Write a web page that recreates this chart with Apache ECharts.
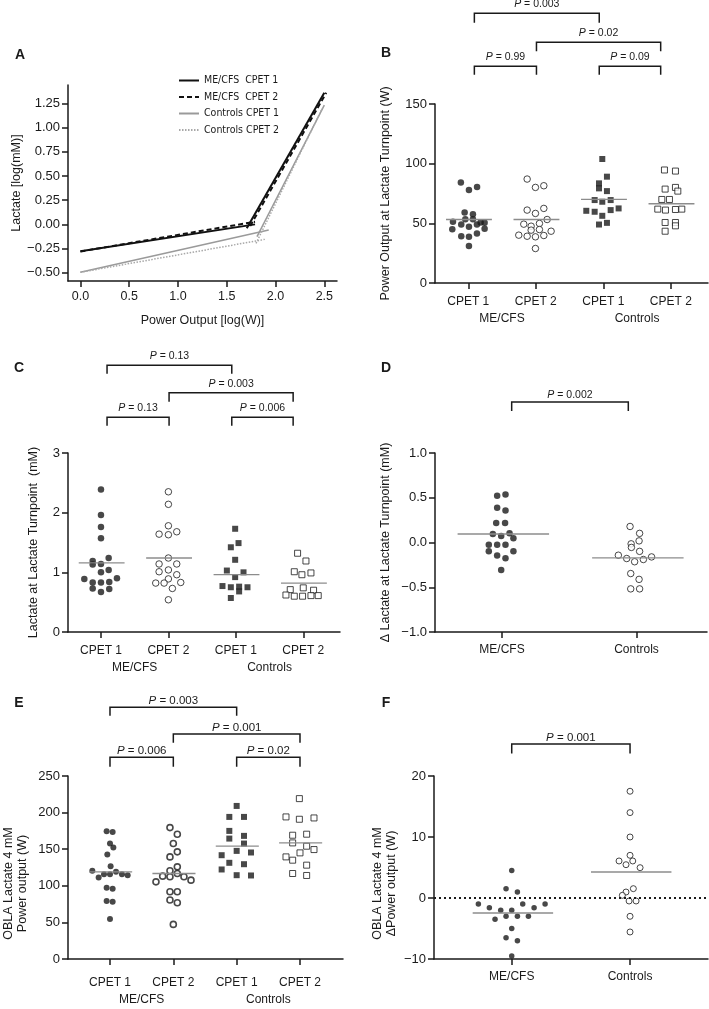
<!DOCTYPE html>
<html>
<head>
<meta charset="utf-8">
<script src="https://cdn.jsdelivr.net/npm/echarts@6/dist/echarts.min.js"></script>
<style>
  html, body { margin: 0; padding: 0; background: #fff; }
  #chart { width: 709px; height: 1009px; }
</style>
</head>
<body>
<div id="chart"></div>
<script>
// ---- panel A: broken-stick fits, [log(W), log(mM)] ----
const aNames = ['ME/CFS  CPET 1', 'ME/CFS  CPET 2', 'Controls CPET 1', 'Controls CPET 2']
const aMe1Low = [[0, -0.277], [1.79, 0.0]]
const aMe1High = [[1.705, -0.04], [2.5, 1.36]]
const aMe2Low = [[0, -0.28], [1.79, 0.027]]
const aMe2High = [[1.74, -0.017], [2.52, 1.36]]
const aCo1Low = [[0, -0.495], [1.93, -0.058]]
const aCo1High = [[1.81, -0.127], [2.5, 1.233]]
const aCo2Low = [[0, -0.495], [1.89, -0.155]]
const aCo2High = [[1.8, -0.196], [2.48, 1.2]]
const aYTicks = [-0.5, -0.25, 0, 0.25, 0.5, 0.75, 1, 1.25]
const aXTicks = [0, 0.5, 1, 1.5, 2, 2.5]

// categories
const cpet = ['CPET 1', 'CPET 2', 'CPET 1', 'CPET 2']
const cohorts = ['ME/CFS', 'Controls']

// ---- panel B: power output at lactate turnpoint (W), [jitter, value] ----
const bMe1 = [[-0.11, 84.3], [0.13, 80.4], [0.01, 77.9], [-0.054, 59.1], [0.069, 57.7], [-0.227, 51.3], [-0.044, 53.5], [0.069, 53.5], [0.183, 50.7], [-0.104, 49], [0.01, 47.1], [0.128, 49], [0.242, 50.4], [-0.237, 45.1], [0.242, 45.4], [-0.104, 39.2], [0.01, 38.7], [0.128, 41.5], [0.01, 31.1]]
const bMe2 = [[-0.128, 87.1], [0.119, 81.5], [-0.005, 80.1], [0.119, 62.5], [-0.128, 61.1], [-0.005, 58.3], [0.168, 53.2], [-0.178, 49.3], [0.054, 49.9], [-0.069, 47.6], [-0.069, 44.3], [0.054, 44.8], [0.227, 43.4], [-0.252, 40.1], [-0.128, 39.2], [-0.005, 38.7], [0.119, 39.8], [-0.005, 28.9]]
const bCo1 = [[-0.015, 103.9], [0.054, 89.1], [-0.064, 83.5], [-0.064, 79.3], [0.054, 77], [-0.128, 69.5], [-0.015, 68.1], [0.109, 69.5], [-0.252, 60.5], [-0.128, 59.7], [0.109, 61.1], [0.227, 62.5], [-0.015, 56.3], [-0.064, 49], [0.054, 50.4]]
const bCo2 = [[-0.094, 94.7], [0.069, 93.8], [-0.084, 78.7], [0.069, 80.1], [0.104, 77], [-0.133, 70], [-0.02, 70], [-0.193, 61.9], [-0.079, 61.1], [0.069, 61.6], [0.163, 61.9], [-0.084, 50.7], [0.069, 50.7], [0.069, 47.9], [-0.084, 43.4]]
const bMeans = [53.2, 53.2, 70.0, 66.4]
const bBrackets = [[0.09, 1.94, 226, 218.1], [1.01, 2.85, 201.8, 194.2], [0.09, 1.01, 181.6, 174.6], [1.94, 2.85, 181.6, 174.6]]
const bP = ['0.003', '0.02', '0.99', '0.09']

// ---- panel C: lactate at lactate turnpoint (mM) ----
const cMe1 = [[0, 2.39], [0, 1.96], [0, 1.76], [0, 1.57], [-0.123, 1.19], [0.114, 1.24], [-0.123, 1.13], [0, 1.14], [0, 1.0], [0.114, 1.04], [-0.247, 0.89], [-0.123, 0.83], [0, 0.83], [0.123, 0.84], [0.237, 0.9], [-0.123, 0.73], [0, 0.67], [0.123, 0.72]]
const cMe2 = [[0, 2.35], [0, 2.14], [0, 1.78], [-0.138, 1.64], [0, 1.63], [0.124, 1.68], [0, 1.24], [-0.138, 1.14], [0.124, 1.14], [-0.138, 1.01], [0, 1.04], [0.124, 0.96], [0, 0.89], [-0.188, 0.82], [-0.064, 0.82], [0.183, 0.83], [0.059, 0.73], [0, 0.54]]
const cCo1 = [[-0.01, 1.73], [-0.074, 1.42], [0.04, 1.49], [-0.01, 1.21], [-0.133, 1.03], [0.114, 1.0], [-0.01, 0.92], [-0.198, 0.77], [-0.074, 0.75], [0.049, 0.76], [0.049, 0.68], [0.173, 0.75], [-0.074, 0.57]]
const cCo2 = [[-0.084, 1.32], [0.04, 1.19], [-0.133, 1.01], [-0.02, 0.96], [0.114, 0.99], [-0.193, 0.71], [0, 0.74], [0.153, 0.7], [-0.257, 0.62], [-0.133, 0.6], [-0.01, 0.6], [0.114, 0.61], [0.222, 0.61]]
const cMeans = [1.16, 1.24, 0.96, 0.82]
const cBrackets = [[0.09, 1.94, 4.47, 4.33], [1.01, 2.85, 4.01, 3.86], [0.09, 1.01, 3.6, 3.455], [1.94, 2.85, 3.6, 3.455]]
const cP = ['0.13', '0.003', '0.13', '0.006']

// ---- panel D: delta lactate at turnpoint (mM) ----
const dMe = [[-0.036, 0.522], [0.026, 0.536], [-0.036, 0.387], [0.026, 0.358], [-0.043, 0.219], [0.023, 0.219], [-0.068, 0.095], [-0.006, 0.073], [0.056, 0.102], [0.085, 0.047], [-0.098, -0.026], [-0.036, -0.026], [0.026, -0.026], [-0.098, -0.099], [0.085, -0.099], [-0.036, -0.146], [0.026, -0.175], [-0.006, -0.307]]
const dCo = [[-0.048, 0.179], [0.023, 0.102], [0.019, 0.018], [-0.04, -0.015], [-0.038, -0.055], [0.023, -0.099], [-0.135, -0.142], [-0.073, -0.179], [-0.014, -0.215], [0.051, -0.19], [0.112, -0.161], [-0.043, -0.347], [0.019, -0.412], [-0.043, -0.518], [0.023, -0.518]]
const dMeans = [0.095, -0.172]
const dBrackets = [[0.072, 0.939, 1.569, 1.468]]
const dP = ['0.002']

// ---- panel E: OBLA 4 mM power output (W) ----
const eMe1 = [[-0.053, 174.5], [0.042, 173.6], [0, 157.7], [0.053, 152.3], [-0.042, 142.7], [0.01, 126.8], [-0.279, 120.5], [-0.179, 111.4], [-0.095, 115.9], [0, 115.9], [0.095, 119.1], [0.189, 115.9], [0.279, 114.5], [-0.053, 97.3], [0.042, 95.9], [-0.053, 79.1], [0.042, 78.2], [0, 54.5]]
const eMe2 = [[-0.053, 179.5], [0.063, 170.5], [0, 157.7], [0.063, 146.4], [-0.053, 139.5], [0.063, 125.9], [-0.053, 120.5], [-0.168, 113.2], [-0.053, 112.3], [0.063, 116.8], [0.168, 112.3], [0.279, 107.7], [-0.274, 105.4], [-0.053, 91.8], [0.063, 91.8], [-0.053, 80.5], [0.063, 76.8], [0, 47.3]]
const eCo1 = [[0, 209.1], [-0.116, 194.1], [0.116, 194.1], [-0.116, 175], [0.116, 168.2], [-0.116, 164.5], [0.116, 157.7], [0, 147.7], [-0.237, 141.8], [0.226, 145.5], [-0.116, 131.4], [0.116, 129.5], [-0.237, 122.3], [0, 114.5], [0.226, 114.1]]
const eCo2 = [[-0.01, 219.1], [-0.221, 194.1], [-0.01, 190.9], [0.221, 192.7], [-0.116, 169.1], [0.105, 170.5], [-0.116, 158.6], [0.105, 154.1], [0, 145], [0.221, 149.5], [-0.221, 139.5], [-0.116, 135], [0.105, 128.2], [-0.116, 116.8], [0.105, 114.1]]
const eMeans = [119.1, 116.8, 154.1, 158.6]
const eBrackets = [[0, 2, 343.8, 332.4], [1, 3, 307.4, 295.5], [0, 1, 275.5, 262.7], [2, 3, 275.5, 262.7]]
const eP = ['0.003', '0.001', '0.006', '0.02']

// ---- panel F: delta OBLA power output (W) ----
const fMe = [[0, 4.5], [-0.048, 1.5], [0.048, 1.0], [-0.282, -1.0], [-0.189, -1.6], [-0.093, -2.0], [0, -2.0], [0.093, -1.0], [0.189, -1.6], [0.282, -1.0], [-0.141, -3.5], [-0.048, -3.0], [0.048, -3.0], [0.141, -3.0], [0, -5.0], [-0.048, -6.5], [0.048, -7.0], [0, -9.5]]
const fCo = [[0, 17.5], [0, 14.0], [0, 10.0], [0, 7.0], [-0.093, 6.07], [-0.034, 5.46], [0.023, 6.07], [0.085, 4.97], [-0.034, 0.98], [0.028, 1.53], [-0.065, 0.44], [-0.008, -0.49], [0.051, -0.49], [0, -3.0], [0, -5.57]]
const fMeans = [-2.46, 4.26]
const fBrackets = [[0, 1, 25.25, 23.7]]
const fP = ['0.001']

const ink = '#1a1a1a'
const font = '"Liberation Sans", Arial, sans-serif'
const narrow = '"Liberation Sans Narrow", "DejaVu Sans Condensed", sans-serif'
const minus = s => String(s).replace('-', '\u2212')

const dotBlack = { symbol: 'circle', symbolSize: 6.5, itemStyle: { color: ink } }
const dotOpen = { symbol: 'circle', symbolSize: 6.5, itemStyle: { color: '#fff', borderColor: ink, borderWidth: 1 } }
const sqBlack = { symbol: 'rect', symbolSize: 6, itemStyle: { color: ink } }
const sqOpen = { symbol: 'rect', symbolSize: 6, itemStyle: { color: '#fff', borderColor: ink, borderWidth: 1 } }

function yAx(grid, min, max, o) {
  return {
    type: 'value', gridIndex: grid, min, max, interval: o.interval,
    name: o.name, nameLocation: 'middle', nameGap: o.gap,
    nameTextStyle: Object.assign({ color: ink, fontSize: 12.5, fontFamily: font, lineHeight: 14 }, o.nameStyle),
    axisLine: { show: true, onZero: false, lineStyle: { color: ink, width: 1.5 } },
    axisTick: { show: true, length: 6, lineStyle: { color: ink, width: 1.5 }, customValues: o.ticks },
    axisLabel: { color: ink, fontSize: 13, fontFamily: font, margin: 8, customValues: o.ticks, formatter: o.fmt },
    splitLine: { show: false }
  }
}

function xAx(grid, min, max, o) {
  return {
    type: 'value', gridIndex: grid, min, max, position: 'bottom',
    name: o.name, nameLocation: 'middle', nameGap: o.gap,
    nameTextStyle: { color: ink, fontSize: 12.5, fontFamily: font },
    axisLine: { show: true, onZero: false, lineStyle: { color: ink, width: 1.5 } },
    axisTick: { show: true, length: 6, lineStyle: { color: ink, width: 1.5 }, customValues: o.ticks },
    axisLabel: { color: ink, fontSize: o.size || 12, fontFamily: font, margin: o.margin || 8, customValues: o.ticks, formatter: o.fmt },
    splitLine: { show: false }
  }
}

function cohortAx(grid, min, max, margin) {
  return {
    type: 'value', gridIndex: grid, min, max, position: 'bottom', offset: 17,
    axisLine: { show: false }, axisTick: { show: false }, splitLine: { show: false },
    axisLabel: { color: ink, fontSize: 12, fontFamily: font, margin, customValues: [0.5, 2.5], formatter: v => cohorts[v < 1.5 ? 0 : 1] }
  }
}

function dots(xi, yi, group, pos, sym) {
  return Object.assign({ type: 'scatter', xAxisIndex: xi, yAxisIndex: yi, silent: true, z: 3, data: group.map(p => [pos + p[0], p[1]]) }, sym)
}

function means(xi, yi, vals) {
  return {
    type: 'custom', xAxisIndex: xi, yAxisIndex: yi, silent: true, z: 4,
    data: vals.map((m, i) => [i, m]),
    renderItem: (p, api) => {
      const a = api.coord([api.value(0) - 0.33, api.value(1)])
      const b = api.coord([api.value(0) + 0.35, api.value(1)])
      return { type: 'line', shape: { x1: a[0], y1: a[1], x2: b[0], y2: b[1] }, style: { stroke: '#8c8c8c', lineWidth: 1.3 } }
    }
  }
}

function brackets(xi, yi, rows, labels, size, lift) {
  return {
    type: 'custom', xAxisIndex: xi, yAxisIndex: yi, silent: true, clip: false, z: 5,
    data: rows,
    renderItem: (p, api) => {
      const a = api.coord([api.value(0), api.value(2)])
      const b = api.coord([api.value(1), api.value(2)])
      const leg = api.coord([api.value(0), api.value(3)])[1]
      return {
        type: 'group',
        children: [
          { type: 'polyline', shape: { points: [[a[0], leg], [a[0], a[1]], [b[0], b[1]], [b[0], leg]] }, style: { stroke: ink, lineWidth: 1.5, fill: null } },
          {
            type: 'text',
            style: {
              x: (a[0] + b[0]) / 2, y: a[1] - lift, text: '{i|P} = ' + labels[p.dataIndex],
              align: 'center', verticalAlign: 'middle', fontSize: size, fontFamily: font, fill: ink,
              rich: { i: { fontStyle: 'italic', fontSize: size, fontFamily: font, fill: ink } }
            }
          }
        ]
      }
    }
  }
}

function fitLine(name, data, color, width, type) {
  return { type: 'line', name, xAxisIndex: 0, yAxisIndex: 0, data, symbol: 'none', silent: true, lineStyle: { color, width, type }, itemStyle: { color } }
}

const letter = (t, x, y) => ({ type: 'text', x, y, style: { text: t, fontSize: 14, fontWeight: 'bold', fontFamily: font, fill: ink, align: 'center', verticalAlign: 'middle' } })

const chart = echarts.init(document.getElementById('chart'))

chart.setOption({
  animation: false,
  backgroundColor: '#fff',
  textStyle: { fontFamily: font },
  grid: [
    { left: 68, top: 85, width: 269, height: 196 },
    { left: 435, top: 104, width: 273, height: 179 },
    { left: 68, top: 453, width: 272, height: 179 },
    { left: 435, top: 453, width: 272, height: 179 },
    { left: 68, top: 776, width: 275, height: 183 },
    { left: 434, top: 776, width: 274, height: 183 }
  ],
  legend: {
    data: aNames, orient: 'vertical', left: 173, top: 70, itemWidth: 20, itemHeight: 10, itemGap: 5.5,
    selectedMode: false, itemStyle: { opacity: 0 },
    textStyle: { fontSize: 10.5, fontFamily: narrow, color: ink }
  },
  xAxis: [
    xAx(0, -0.127, 2.63, { ticks: aXTicks, fmt: v => v.toFixed(1), size: 12.5, margin: 9, name: 'Power Output [log(W)]', gap: 33 }),
    xAx(1, -0.493, 3.551, { ticks: [0, 1, 2, 3], fmt: v => cpet[Math.round(v)], margin: 13 }),
    cohortAx(1, -0.493, 3.551, 13),
    xAx(2, -0.489, 3.545, { ticks: [0, 1, 2, 3], fmt: v => cpet[Math.round(v)], margin: 13 }),
    cohortAx(2, -0.489, 3.545, 13),
    xAx(3, -0.498, 1.524, { ticks: [0, 1], fmt: v => cohorts[Math.round(v)], margin: 12 }),
    xAx(4, -0.663, 3.679, { ticks: [0, 1, 2, 3], fmt: v => cpet[Math.round(v)], margin: 18 }),
    cohortAx(4, -0.663, 3.679, 18),
    xAx(5, -0.657, 1.659, { ticks: [0, 1], fmt: v => cohorts[Math.round(v)], margin: 12 })
  ],
  yAxis: [
    yAx(0, -0.585, 1.44, { ticks: aYTicks, fmt: v => minus(v.toFixed(2)), name: 'Lactate [log(mM)]', gap: 42 }),
    yAx(1, 0, 150, { interval: 50, name: 'Power Output at Lactate Turnpoint (W)', gap: 42 }),
    yAx(2, 0, 3, { interval: 1, name: 'Lactate at Lactate Turnpoint  (mM)', gap: 27 }),
    yAx(3, -1, 1, { interval: 0.5, fmt: v => minus(v.toFixed(1)), name: '\u0394 Lactate at Lactate Turnpoint (mM)', gap: 42 }),
    yAx(4, 0, 250, { interval: 50, name: 'OBLA Lactate 4 mM\nPower output (W)', gap: 38, nameStyle: { padding: [0, 32, 0, 0] } }),
    yAx(5, -10, 20, { interval: 10, fmt: v => minus(v), name: 'OBLA Lactate 4 mM\n\u0394Power output (W)', gap: 35, nameStyle: { padding: [0, 32, 0, 0] } })
  ],
  graphic: [
    letter('A', 20, 55), letter('B', 386, 53), letter('C', 19, 368),
    letter('D', 386, 368), letter('E', 19, 703), letter('F', 386, 703)
  ],
  series: [
    fitLine(aNames[0], aMe1Low, '#111', 2, 'solid'),
    fitLine(aNames[0], aMe1High, '#111', 2, 'solid'),
    fitLine(aNames[1], aMe2Low, '#111', 2, [5, 3]),
    fitLine(aNames[1], aMe2High, '#111', 2, [5, 3]),
    fitLine(aNames[2], aCo1Low, '#9a9a9a', 1.5, 'solid'),
    fitLine(aNames[2], aCo1High, '#9a9a9a', 1.5, 'solid'),
    fitLine(aNames[3], aCo2Low, '#a8a8a8', 1.5, [1.5, 1.5]),
    fitLine(aNames[3], aCo2High, '#a8a8a8', 1.5, [1.5, 1.5]),

    dots(1, 1, bMe1, 0, dotBlack), dots(1, 1, bMe2, 1, dotOpen), dots(1, 1, bCo1, 2, sqBlack), dots(1, 1, bCo2, 3, sqOpen),
    means(1, 1, bMeans), brackets(1, 1, bBrackets, bP, 10.5, 9),

    dots(3, 2, cMe1, 0, dotBlack), dots(3, 2, cMe2, 1, dotOpen), dots(3, 2, cCo1, 2, sqBlack), dots(3, 2, cCo2, 3, sqOpen),
    means(3, 2, cMeans), brackets(3, 2, cBrackets, cP, 10.5, 9),

    dots(5, 3, dMe, 0, dotBlack), dots(5, 3, dCo, 1, dotOpen),
    means(5, 3, dMeans), brackets(5, 3, dBrackets, dP, 10.5, 6.7),

    dots(6, 4, eMe1, 0, { symbol: 'circle', symbolSize: 6, itemStyle: { color: ink } }),
    dots(6, 4, eMe2, 1, { symbol: 'circle', symbolSize: 6, itemStyle: { color: '#fff', borderColor: ink, borderWidth: 1.6 } }),
    dots(6, 4, eCo1, 2, sqBlack), dots(6, 4, eCo2, 3, sqOpen),
    means(6, 4, eMeans), brackets(6, 4, eBrackets, eP, 11.5, 6.3),

    Object.assign(dots(8, 5, fMe, 0, { symbol: 'circle', symbolSize: 5.5, itemStyle: { color: ink } }), {
      markLine: { silent: true, symbol: 'none', label: { show: false }, lineStyle: { color: ink, width: 2, type: [2, 3] }, data: [{ yAxis: 0 }] }
    }),
    dots(8, 5, fCo, 1, { symbol: 'circle', symbolSize: 6, itemStyle: { color: '#fff', borderColor: ink, borderWidth: 1 } }),
    means(8, 5, fMeans), brackets(8, 5, fBrackets, fP, 11.5, 5.7)
  ]
})
</script>
</body>
</html>
